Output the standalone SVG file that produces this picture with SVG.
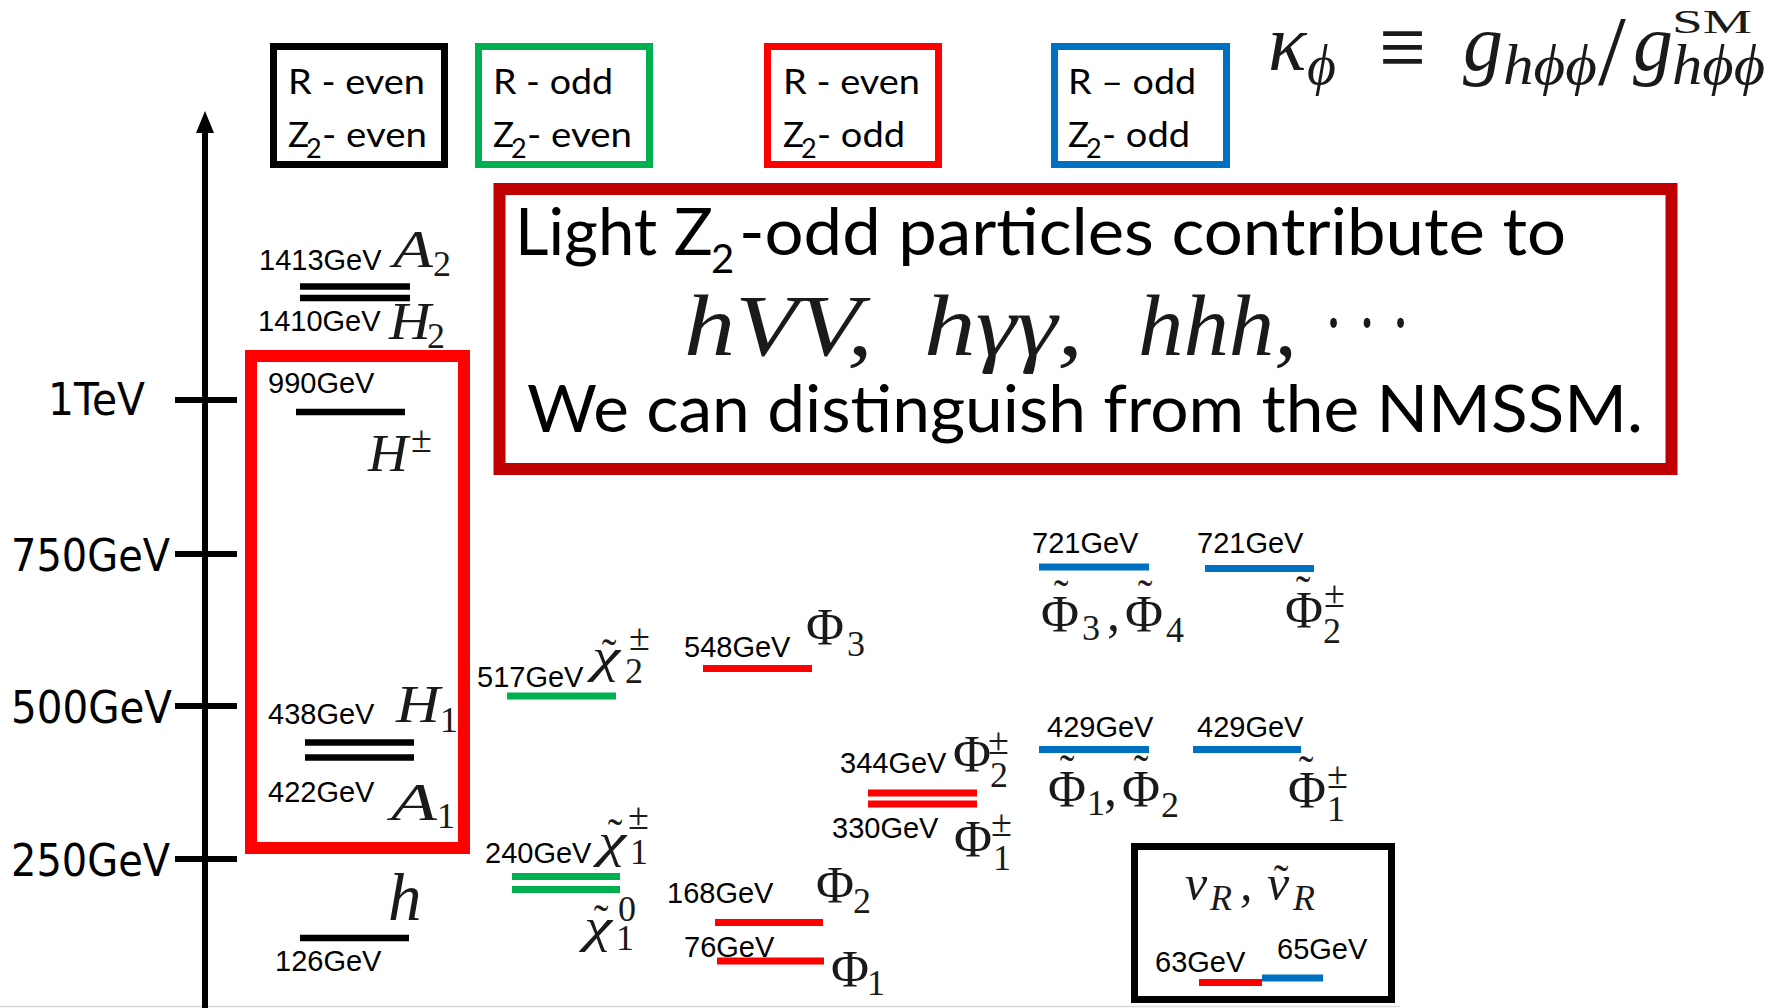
<svg xmlns="http://www.w3.org/2000/svg" width="1779" height="1008" viewBox="0 0 1779 1008">
<defs>
<style>
.lbl{font-family:"Liberation Sans",Arial,sans-serif;font-size:29px;fill:#000}
.tick{font-family:"DejaVu Sans",Verdana,sans-serif;font-size:44px;fill:#000}
.cal{font-family:Lato,"Open Sans",sans-serif;fill:#000}
.leg{font-size:35px}
.legs{font-size:27px}
.mi{font-family:"Liberation Serif","DejaVu Serif",serif;font-style:italic;fill:#1a1a1a}
.mr{font-family:"Liberation Serif","DejaVu Serif",serif;fill:#1a1a1a}
.big{font-size:52px}
.chi{font-size:48px}
.sub{font-size:36px}
.pm{font-size:38px}
.til{font-size:44px}
.lvk{stroke:#000;stroke-width:6.5}
.lvg{stroke:#00B050;stroke-width:7}
.lvr{stroke:#FF0000;stroke-width:7}
.lvb{stroke:#0070C0;stroke-width:7}
.box{fill:none}
</style>
</defs>
<rect x="0" y="0" width="1779" height="1008" fill="#fff"/>
<line x1="0" y1="1006.5" x2="1400" y2="1006.5" stroke="#d9d9d9" stroke-width="1.5"/>

<!-- axis -->
<g id="axis">
<line x1="205" y1="128" x2="205" y2="1008" stroke="#000" stroke-width="6"/>
<polygon points="205,111 196,133 214,133" fill="#000"/>
<line x1="175" y1="400" x2="237" y2="400" stroke="#000" stroke-width="6"/>
<line x1="175" y1="554" x2="237" y2="554" stroke="#000" stroke-width="6"/>
<line x1="175" y1="706" x2="237" y2="706" stroke="#000" stroke-width="6"/>
<line x1="175" y1="859" x2="237" y2="859" stroke="#000" stroke-width="6"/>
<text class="tick" x="48" y="415" textLength="97" lengthAdjust="spacingAndGlyphs">1TeV</text>
<text class="tick" x="11" y="571" textLength="159" lengthAdjust="spacingAndGlyphs">750GeV</text>
<text class="tick" x="11" y="723" textLength="161" lengthAdjust="spacingAndGlyphs">500GeV</text>
<text class="tick" x="11" y="876" textLength="159" lengthAdjust="spacingAndGlyphs">250GeV</text>
</g>

<!-- legend boxes -->
<g id="legend-black">
<rect class="box" x="273.5" y="46.5" width="171" height="118" stroke="#000" stroke-width="7"/>
<text class="cal leg" x="288" y="94" textLength="137" lengthAdjust="spacingAndGlyphs">R - even</text>
<text class="cal leg" x="288" y="147">Z</text>
<text class="cal legs" x="306" y="158">2</text>
<text class="cal leg" x="322" y="147" textLength="105" lengthAdjust="spacingAndGlyphs">- even</text>
</g>
<g id="legend-green">
<rect class="box" x="478.5" y="46.5" width="171" height="118" stroke="#00B050" stroke-width="7"/>
<text class="cal leg" x="493" y="94" textLength="120" lengthAdjust="spacingAndGlyphs">R - odd</text>
<text class="cal leg" x="493" y="147">Z</text>
<text class="cal legs" x="511" y="158">2</text>
<text class="cal leg" x="527" y="147" textLength="105" lengthAdjust="spacingAndGlyphs">- even</text>
</g>
<g id="legend-red">
<rect class="box" x="767.5" y="46.5" width="171" height="118" stroke="#FF0000" stroke-width="7"/>
<text class="cal leg" x="783" y="94" textLength="137" lengthAdjust="spacingAndGlyphs">R - even</text>
<text class="cal leg" x="783" y="147">Z</text>
<text class="cal legs" x="801" y="158">2</text>
<text class="cal leg" x="817" y="147" textLength="88" lengthAdjust="spacingAndGlyphs">- odd</text>
</g>
<g id="legend-blue">
<rect class="box" x="1054.5" y="46.5" width="172" height="118" stroke="#0070C0" stroke-width="7"/>
<text class="cal leg" x="1068" y="94" textLength="128" lengthAdjust="spacingAndGlyphs">R – odd</text>
<text class="cal leg" x="1068" y="147">Z</text>
<text class="cal legs" x="1086" y="158">2</text>
<text class="cal leg" x="1102" y="147" textLength="88" lengthAdjust="spacingAndGlyphs">- odd</text>
</g>

<!-- formula -->
<g id="formula">
<text class="mi" x="1268" y="70" font-size="80">κ</text>
<text class="mi" x="1307" y="84" font-size="56">ϕ</text>
<text class="mr" x="1379" y="79" font-size="95" textLength="47" lengthAdjust="spacingAndGlyphs">≡</text>
<text class="mi" x="1463" y="70" font-size="80">g</text>
<text class="mi" x="1503" y="84" font-size="56" textLength="94" lengthAdjust="spacingAndGlyphs">hϕϕ</text>
<text class="mr" x="1598" y="84" font-size="100">/</text>
<text class="mi" x="1633" y="70" font-size="80">g</text>
<text class="mr" x="1672" y="33" font-size="34" textLength="80" lengthAdjust="spacingAndGlyphs">SM</text>
<text class="mi" x="1672" y="84" font-size="56" textLength="93" lengthAdjust="spacingAndGlyphs">hϕϕ</text>
</g>

<!-- message box -->
<g id="message">
<rect class="box" x="499.5" y="189" width="1172" height="280" stroke="#C00000" stroke-width="12"/>
<text class="cal" font-size="65" x="515" y="255" textLength="198" lengthAdjust="spacingAndGlyphs">Light Z</text>
<text class="cal" font-size="40" x="711" y="273">2</text>
<text class="cal" font-size="65" x="739" y="255" textLength="827" lengthAdjust="spacingAndGlyphs">-odd particles contribute to</text>
<text class="mi" font-size="86" x="684" y="355" textLength="189" lengthAdjust="spacingAndGlyphs" fill="#222">hVV,</text>
<text class="mi" font-size="86" x="924" y="355" textLength="159" lengthAdjust="spacingAndGlyphs" fill="#222">hγγ,</text>
<text class="mi" font-size="86" x="1138" y="355" textLength="159" lengthAdjust="spacingAndGlyphs" fill="#222">hhh,</text>
<text class="mr" font-size="86" x="1324" y="352" textLength="86" lengthAdjust="spacingAndGlyphs">· · ·</text>
<text class="cal" font-size="65" x="527" y="432" textLength="1116" lengthAdjust="spacingAndGlyphs">We can distinguish from the NMSSM.</text>
</g>

<!-- Higgs sector (R-even, Z2-even) -->
<g id="A2-H2">
<text class="lbl" x="259" y="270">1413GeV</text>
<text class="mi big" x="393" y="267" textLength="40" lengthAdjust="spacingAndGlyphs">A</text>
<text class="mr sub" x="433" y="276">2</text>
<line class="lvk" x1="300" y1="286.5" x2="410" y2="286.5"/>
<line class="lvk" x1="300" y1="298" x2="410" y2="298"/>
<text class="lbl" x="258" y="331">1410GeV</text>
<text class="mi big" x="389" y="339" textLength="42" lengthAdjust="spacingAndGlyphs">H</text>
<text class="mr sub" x="427" y="348">2</text>
</g>
<g id="heavy-box">
<rect class="box" x="251" y="356" width="213" height="492" stroke="#FF0000" stroke-width="12"/>
</g>
<g id="Hpm">
<text class="lbl" x="268" y="393">990GeV</text>
<line class="lvk" x1="296" y1="412" x2="405" y2="412"/>
<text class="mi big" x="368" y="471" textLength="40" lengthAdjust="spacingAndGlyphs">H</text>
<text class="mr pm" x="411" y="452">±</text>
</g>
<g id="H1-A1">
<text class="lbl" x="268" y="724">438GeV</text>
<text class="mi big" x="396" y="722" textLength="44" lengthAdjust="spacingAndGlyphs">H</text>
<text class="mr sub" x="440" y="732">1</text>
<line class="lvk" x1="305" y1="742.5" x2="414" y2="742.5"/>
<line class="lvk" x1="305" y1="757.5" x2="414" y2="757.5"/>
<text class="lbl" x="268" y="802">422GeV</text>
<text class="mi big" x="391" y="820" textLength="46" lengthAdjust="spacingAndGlyphs">A</text>
<text class="mr sub" x="437" y="828">1</text>
</g>
<g id="h">
<text class="mi" font-size="67" x="388" y="920">h</text>
<line class="lvk" x1="300" y1="938" x2="409" y2="938"/>
<text class="lbl" x="275" y="971">126GeV</text>
</g>

<!-- charginos / neutralinos (green) -->
<g id="chi2">
<text class="lbl" x="477" y="687">517GeV</text>
<line class="lvg" x1="507" y1="696" x2="616" y2="696"/>
<text class="mr til" x="609" y="669" text-anchor="middle">˜</text>
<text class="mi chi" x="592" y="672" textLength="28" lengthAdjust="spacingAndGlyphs">χ</text>
<text class="mr sub" x="625" y="683">2</text>
<text class="mr pm" x="629" y="650">±</text>
</g>
<g id="chi1">
<text class="lbl" x="485" y="863">240GeV</text>
<text class="mr til" x="615" y="849" text-anchor="middle">˜</text>
<text class="mi chi" x="598" y="857" textLength="28" lengthAdjust="spacingAndGlyphs">χ</text>
<text class="mr sub" x="630" y="864">1</text>
<text class="mr pm" x="628" y="829">±</text>
<line class="lvg" x1="512" y1="876.5" x2="620" y2="876.5"/>
<line class="lvg" x1="512" y1="889.5" x2="620" y2="889.5"/>
<text class="mr til" x="601" y="935" text-anchor="middle">˜</text>
<text class="mi chi" x="584" y="942" textLength="28" lengthAdjust="spacingAndGlyphs">χ</text>
<text class="mr sub" x="616" y="950">1</text>
<text class="mr sub" x="618" y="921">0</text>
</g>

<!-- R-even Z2-odd (red) -->
<g id="Phi3">
<text class="lbl" x="684" y="657">548GeV</text>
<line class="lvr" x1="703" y1="668.5" x2="812" y2="668.5"/>
<text class="mr big" x="806" y="645">Φ</text>
<text class="mr sub" x="847" y="656">3</text>
</g>
<g id="Phipm">
<text class="lbl" x="840" y="773">344GeV</text>
<text class="mr big" x="953" y="772">Φ</text>
<text class="mr pm" x="988" y="754">±</text>
<text class="mr sub" x="990" y="787">2</text>
<line class="lvr" x1="868" y1="793" x2="977" y2="793"/>
<line class="lvr" x1="868" y1="804" x2="977" y2="804"/>
<text class="lbl" x="832" y="838">330GeV</text>
<text class="mr big" x="954" y="857">Φ</text>
<text class="mr pm" x="991" y="836">±</text>
<text class="mr sub" x="993" y="870">1</text>
</g>
<g id="Phi2">
<text class="lbl" x="667" y="903">168GeV</text>
<text class="mr big" x="816" y="903">Φ</text>
<text class="mr sub" x="853" y="913">2</text>
<line class="lvr" x1="715" y1="922.5" x2="823" y2="922.5"/>
</g>
<g id="Phi1">
<text class="lbl" x="684" y="957">76GeV</text>
<line class="lvr" x1="717" y1="961" x2="824" y2="961"/>
<text class="mr big" x="831" y="987">Φ</text>
<text class="mr sub" x="867" y="995">1</text>
</g>

<!-- R-odd Z2-odd (blue) -->
<g id="tPhi34">
<text class="lbl" x="1032" y="553">721GeV</text>
<line class="lvb" x1="1039" y1="567" x2="1149" y2="567"/>
<text class="mr til" x="1061" y="610" text-anchor="middle">˜</text>
<text class="mr big" x="1041" y="632">Φ</text>
<text class="mr sub" x="1082" y="640">3</text>
<text class="mr big" x="1107" y="630">,</text>
<text class="mr til" x="1145" y="610" text-anchor="middle">˜</text>
<text class="mr big" x="1125" y="632">Φ</text>
<text class="mr sub" x="1166" y="642">4</text>
</g>
<g id="tPhi2pm">
<text class="lbl" x="1197" y="553">721GeV</text>
<line class="lvb" x1="1205" y1="568.5" x2="1314" y2="568.5"/>
<text class="mr til" x="1303" y="606" text-anchor="middle">˜</text>
<text class="mr big" x="1285" y="628">Φ</text>
<text class="mr pm" x="1324" y="607">±</text>
<text class="mr sub" x="1323" y="643">2</text>
</g>
<g id="tPhi12">
<text class="lbl" x="1047" y="737">429GeV</text>
<line class="lvb" x1="1039" y1="749.5" x2="1149" y2="749.5"/>
<text class="mr til" x="1067" y="785" text-anchor="middle">˜</text>
<text class="mr big" x="1048" y="807">Φ</text>
<text class="mr sub" x="1087" y="815">1</text>
<text class="mr big" x="1104" y="805">,</text>
<text class="mr til" x="1141" y="785" text-anchor="middle">˜</text>
<text class="mr big" x="1122" y="807">Φ</text>
<text class="mr sub" x="1161" y="817">2</text>
</g>
<g id="tPhi1pm">
<text class="lbl" x="1197" y="737">429GeV</text>
<line class="lvb" x1="1193" y1="749.5" x2="1301" y2="749.5"/>
<text class="mr til" x="1306" y="786" text-anchor="middle">˜</text>
<text class="mr big" x="1288" y="808">Φ</text>
<text class="mr pm" x="1327" y="788">±</text>
<text class="mr sub" x="1327" y="821">1</text>
</g>

<!-- right-handed neutrinos -->
<g id="nuR">
<rect class="box" x="1134.5" y="846.5" width="257" height="153" stroke="#000" stroke-width="7"/>
<text class="mi" font-size="50" x="1185" y="900">ν</text>
<text class="mi sub" x="1210" y="910">R</text>
<text class="mi" font-size="50" x="1240" y="900">,</text>
<text class="mr til" x="1281" y="895" text-anchor="middle">˜</text>
<text class="mi" font-size="50" x="1267" y="900">ν</text>
<text class="mi sub" x="1293" y="910">R</text>
<text class="lbl" x="1155" y="972">63GeV</text>
<text class="lbl" x="1277" y="959">65GeV</text>
<line class="lvr" x1="1199" y1="982.5" x2="1262" y2="982.5"/>
<line class="lvb" x1="1262" y1="978" x2="1323" y2="978"/>
</g>
</svg>
